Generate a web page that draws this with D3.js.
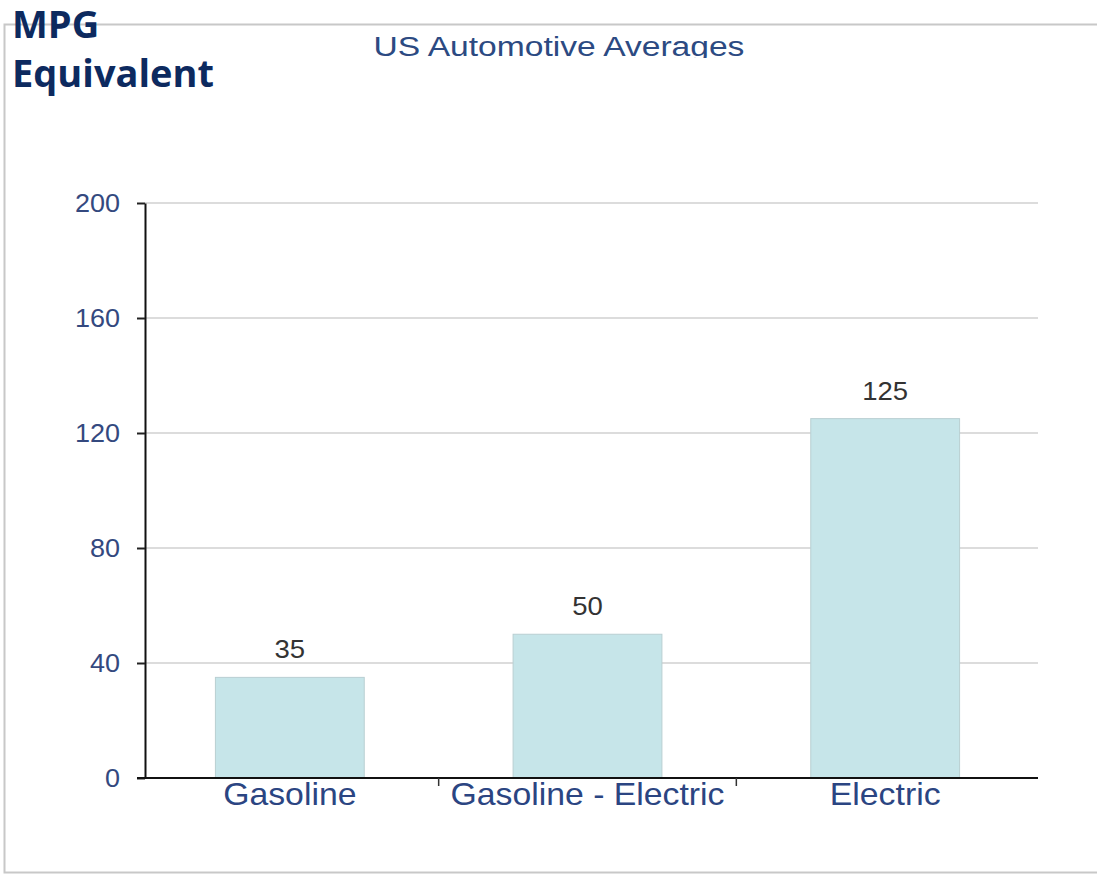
<!DOCTYPE html>
<html>
<head>
<meta charset="utf-8">
<script src="https://cdn.jsdelivr.net/npm/d3@7"></script>
<style>
  body { margin: 0; background: #fff; }
  svg { display: block; }
</style>
</head>
<body>
<div id="chart"></div>
<script>
const categories = ['Gasoline', 'Gasoline - Electric', 'Electric']
const values = [35, 50, 125]
const yTicks = [0, 40, 80, 120, 160, 200]

const width = 1097
const height = 875

const margin = {left: 145, top: 203, right: 59, bottom: 97}

const font = 'Liberation Sans, Arial, sans-serif'

let svg = d3.select('#chart').append('svg')
.attr('width', width)
.attr('height', height)

// title gets cut off at the bottom in the original
svg.append('clipPath')
.attr('id', 'title-clip')
.append('rect')
.attr('x', 0).attr('y', 0).attr('width', width).attr('height', 58)

// outer frame
svg.append('rect')
.attr('x', 4.5)
.attr('y', 24.5)
.attr('width', width)
.attr('height', 848)
.attr('fill', 'none')
.attr('stroke', '#c8c8c8')
.attr('stroke-width', 2)

let xScale = d3.scaleBand()
.domain(categories)
.range([margin.left - 4, width - margin.right - 4])
.paddingInner(0.5)
.paddingOuter(0.25)

let yScale = d3.scaleLinear()
.domain([0, 200])
.range([height - margin.bottom, margin.top])

let grid = svg.append('g')
let bars = svg.append('g')
let axis = svg.append('g')
let labels = svg.append('g')

// text that is a bit stretched sideways, like the source image
let wideText = (sel, x, y, sx, anchor) => {
	let g = sel.append('g')
	.attr('transform', 'translate(' + x + ',' + y + ') scale(' + sx + ',1)')
	return g.append('text')
	.attr('text-anchor', anchor)
	.attr('font-family', font)
}

grid.selectAll('line')
.data(yTicks.filter(d => d > 0))
.join('line')
.attr('x1', margin.left)
.attr('x2', width - margin.right)
.attr('y1', d => yScale(d))
.attr('y2', d => yScale(d))
.attr('stroke', '#dcdcdc')
.attr('stroke-width', 2)

bars.selectAll('rect')
.data(values)
.join('rect')
.attr('x', (d, i) => xScale(categories[i]))
.attr('y', d => yScale(d))
.attr('width', xScale.bandwidth())
.attr('height', d => yScale(0) - yScale(d))
.attr('fill', '#c6e5e9')
.attr('stroke', '#b9cfd2')
.attr('stroke-width', 1)

// y axis
let yaxis = axis.append('g')
.attr('transform', 'translate(' + margin.left + ',0)')
.call(d3.axisLeft(yScale).tickValues(yTicks).tickSizeInner(8).tickSizeOuter(0).tickFormat(''))
yaxis.select('.domain').attr('stroke', '#111').attr('stroke-width', 2)
yaxis.selectAll('.tick line').attr('stroke', '#222').attr('stroke-width', 2)

yTicks.forEach(t => {
	wideText(axis, 120, yScale(t) + 9, 1.08, 'end')
	.attr('font-size', 25)
	.attr('fill', '#34497f')
	.text(t)
})

// x axis line
axis.append('line')
.attr('x1', margin.left - 8)
.attr('x2', width - margin.right)
.attr('y1', yScale(0))
.attr('y2', yScale(0))
.attr('stroke', '#111')
.attr('stroke-width', 2)

// little ticks between categories
axis.selectAll('.sep')
.data(categories.slice(1))
.join('line')
.attr('class', 'sep')
.attr('x1', d => xScale(d) - xScale.step() * 0.25)
.attr('x2', d => xScale(d) - xScale.step() * 0.25)
.attr('y1', yScale(0))
.attr('y2', yScale(0) + 8)
.attr('stroke', '#333')
.attr('stroke-width', 1.5)

// category labels
categories.forEach(c => {
	wideText(labels, xScale(c) + xScale.bandwidth() / 2, yScale(0) + 27, 1.09, 'middle')
	.attr('font-size', 31)
	.attr('fill', '#2b4582')
	.text(c)
})

// value labels
values.forEach((v, i) => {
	wideText(labels, xScale(categories[i]) + xScale.bandwidth() / 2, yScale(v) - 19, 1.1, 'middle')
	.attr('font-size', 25)
	.attr('fill', '#333')
	.text(v)
})

// chart title
wideText(svg.append('g').attr('clip-path', 'url(#title-clip)'), 559, 56, 1.2, 'middle')
.attr('font-size', 28)
.attr('fill', '#2c4a82')
.text('US Automotive Averages')

// big heading
let heading = svg.append('text')
.attr('font-family', 'Open Sans, Noto Sans, sans-serif')
.attr('font-weight', 'bold')
.attr('font-size', 38)
.attr('fill', '#0d2a5f')
heading.append('tspan').attr('x', 12).attr('y', 38).text('MPG')
heading.append('tspan').attr('x', 12).attr('y', 87).text('Equivalent')
</script>
</body>
</html>
